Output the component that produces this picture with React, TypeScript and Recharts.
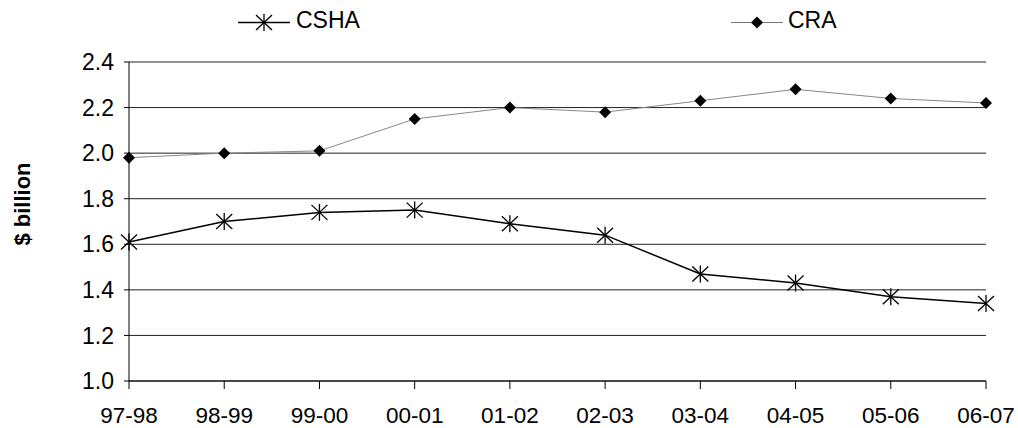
import React from 'react';
import { LineChart, Line, XAxis, YAxis, CartesianGrid, Label } from 'recharts';

const years = ['97-98', '98-99', '99-00', '00-01', '01-02', '02-03', '03-04', '04-05', '05-06', '06-07'];
const csha = [1.61, 1.70, 1.74, 1.75, 1.69, 1.64, 1.47, 1.43, 1.37, 1.34];
const cra = [1.98, 2.00, 2.01, 2.15, 2.20, 2.18, 2.23, 2.28, 2.24, 2.22];
const yTicks = [1.0, 1.2, 1.4, 1.6, 1.8, 2.0, 2.2, 2.4];

const data = years.map((year, i) => ({ year, CSHA: csha[i], CRA: cra[i] }));

const FONT = '"Liberation Sans", Arial, sans-serif';

const StarDot = ({ cx, cy }: { cx?: number; cy?: number }) => {
  if (cx == null || cy == null) return null;
  const w = 8;
  const h = 7.5;
  return (
    <g stroke="#000" strokeWidth={1.3}>
      <line x1={cx - w} y1={cy - h} x2={cx + w} y2={cy + h} />
      <line x1={cx - w} y1={cy + h} x2={cx + w} y2={cy - h} />
      <line x1={cx} y1={cy - h - 1} x2={cx} y2={cy + h + 1} />
    </g>
  );
};

const DiamondDot = ({ cx, cy }: { cx?: number; cy?: number }) => {
  if (cx == null || cy == null) return null;
  const r = 6;
  return <path d={`M${cx},${cy - r}L${cx + r},${cy}L${cx},${cy + r}L${cx - r},${cy}Z`} fill="#000" />;
};

const Legend = () => (
  <svg width={1018} height={40} style={{ position: 'absolute', left: 0, top: 0 }}>
    <line x1={238} y1={22.5} x2={290} y2={22.5} stroke="#000" strokeWidth={1.3} />
    <StarDot cx={264} cy={22.5} />
    <text x={296} y={27.5} fontSize={23} fontFamily={FONT} fill="#000">CSHA</text>
    <line x1={731} y1={22.5} x2={783} y2={22.5} stroke="#777" strokeWidth={1} />
    <DiamondDot cx={757} cy={22.5} />
    <text x={788} y={27.5} fontSize={23} fontFamily={FONT} fill="#000">CRA</text>
  </svg>
);

export default function App() {
  return (
    <div style={{ position: 'absolute', left: 0, top: 0, width: 1018, height: 428, background: '#fff', fontFamily: FONT }}>
      <LineChart width={1018} height={428} data={data} margin={{ top: 62, right: 32, left: 69, bottom: 17 }}>
        <CartesianGrid vertical={false} stroke="#222" strokeWidth={1} />
        <XAxis
          dataKey="year"
          height={30}
          tickSize={8}
          tickMargin={18}
          interval={0}
          axisLine={{ stroke: '#000' }}
          tickLine={{ stroke: '#000' }}
          tick={{ fontSize: 22.5, fill: '#000', fontFamily: FONT }}
        />
        <YAxis
          width={60}
          domain={[1.0, 2.4]}
          ticks={yTicks}
          tickFormatter={(v: number) => v.toFixed(1)}
          tickSize={5}
          tickMargin={10}
          axisLine={{ stroke: '#000' }}
          tickLine={{ stroke: '#000' }}
          tick={{ fontSize: 23, fill: '#000', fontFamily: FONT }}
        >
          <Label
            content={() => (
              <text
                x={22}
                y={204}
                transform="rotate(-90 22 204)"
                textAnchor="middle"
                dominantBaseline="central"
                fontSize={22}
                fontWeight="bold"
                fontFamily={FONT}
                fill="#000"
              >
                $ billion
              </text>
            )}
          />
        </YAxis>
        <Line
          dataKey="CRA"
          stroke="#888"
          strokeWidth={1}
          dot={<DiamondDot />}
          activeDot={false}
          isAnimationActive={false}
        />
        <Line
          dataKey="CSHA"
          stroke="#000"
          strokeWidth={1.5}
          dot={<StarDot />}
          activeDot={false}
          isAnimationActive={false}
        />
      </LineChart>
      <Legend />
    </div>
  );
}
